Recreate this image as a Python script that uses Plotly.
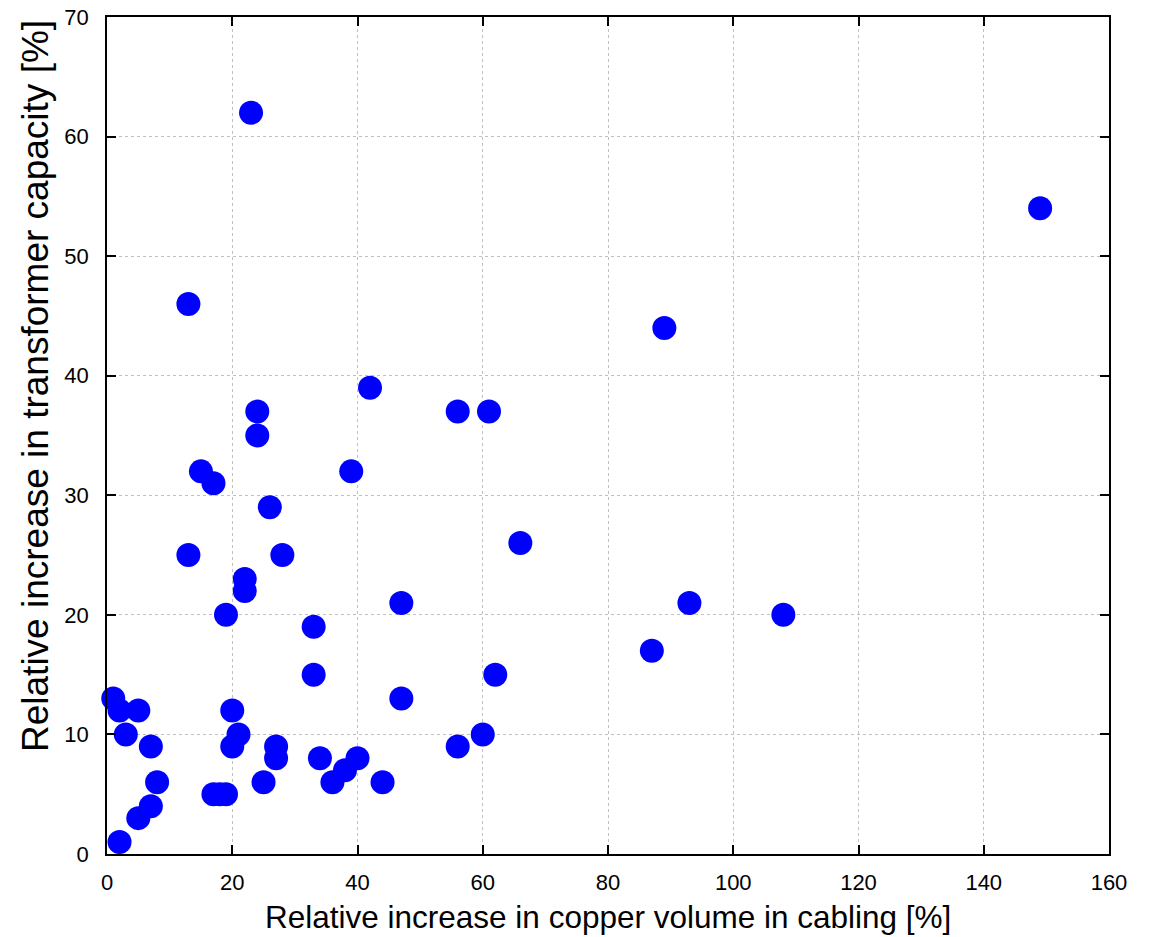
import plotly.graph_objects as go

copper_increase = [1, 2, 3, 5, 7, 8, 7, 5, 2, 13, 13, 15, 17, 19, 22, 22, 23, 24, 24, 26, 28,
                   20, 21, 20, 17, 18, 19, 25, 27, 27, 33, 33, 34, 36, 38, 40, 44, 39, 42,
                   47, 47, 56, 61, 56, 60, 62, 66, 87, 89, 93, 108, 149]
transformer_increase = [13, 12, 10, 12, 9, 6, 4, 3, 1, 46, 25, 32, 31, 20, 23, 22, 62, 37, 35, 29, 25,
                        12, 10, 9, 5, 5, 5, 6, 8, 9, 19, 15, 8, 6, 7, 8, 6, 32, 39,
                        21, 13, 37, 37, 9, 10, 15, 26, 17, 44, 21, 20, 54]
x_ticks = [0, 20, 40, 60, 80, 100, 120, 140, 160]
y_ticks = [0, 10, 20, 30, 40, 50, 60, 70]
x_title = "Relative increase in copper volume in cabling [%]"
y_title = "Relative increase in transformer capacity [%]"

FONT = "Liberation Sans, Arial"

fig = go.Figure(go.Scatter(
    x=copper_increase, y=transformer_increase, mode="markers",
    marker=dict(size=24, color="#0000ff", line=dict(width=0)),
    showlegend=False, cliponaxis=False,
))

axis_common = dict(
    showline=True, linecolor="black", linewidth=1.5, mirror="ticks",
    ticks="inside", ticklen=9, tickwidth=1.5, tickcolor="black",
    showgrid=True, gridcolor="#c0c0c0", griddash="dot", gridwidth=1,
    zeroline=False, tickfont=dict(family=FONT, size=22, color="black"),
    automargin=False, tickmode="array", ticklabeloverflow="allow",
)

fig.update_xaxes(range=[0, 160], tickvals=x_ticks, ticktext=[str(v) for v in x_ticks],
                 ticklabelstandoff=8, **axis_common)
fig.update_yaxes(range=[0, 70.0001], tickvals=y_ticks, ticktext=[str(v) for v in y_ticks],
                 ticklabelstandoff=12, **axis_common)

fig.add_annotation(text=x_title, xref="paper", yref="paper", x=0.5, y=-0.051,
                   xanchor="center", yanchor="top", showarrow=False,
                   font=dict(family=FONT, size=31.5, color="black"))
fig.add_annotation(text=y_title, xref="paper", yref="paper", x=-0.072, y=0.559,
                   xanchor="center", yanchor="middle", textangle=-90, showarrow=False,
                   font=dict(family=FONT, size=37, color="black"))

fig.update_layout(
    width=1157, height=937,
    margin=dict(l=99, r=56, t=9, b=91),
    plot_bgcolor="white", paper_bgcolor="white",
)

fig.write_html("out.html")
